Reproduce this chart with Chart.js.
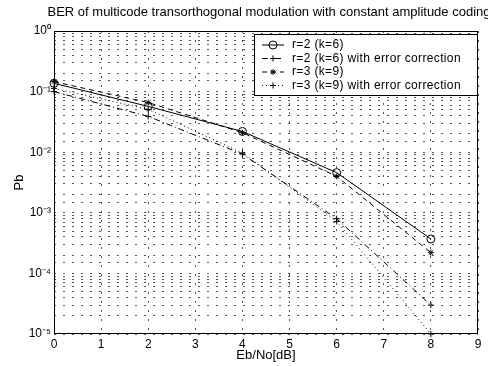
<!DOCTYPE html>
<html>
<head>
<meta charset="utf-8">
<script src="https://cdn.jsdelivr.net/npm/chart.js@4.4.1/dist/chart.umd.min.js"></script>
<style>
html,body{margin:0;padding:0;background:#fff}
#wrap{width:488px;height:366px}
</style>
</head>
<body>
<div id="wrap"><canvas id="ber"></canvas></div>
<script>
// data
const ebno = [0, 2, 4, 6, 8];
const r2k6 = [0.137, 0.057, 0.022, 0.0046, 0.00037];
const r2k6ec = [0.100, 0.039, 0.0093, 0.00080, 0.00003];
const r3k9 = [0.146, 0.066, 0.021, 0.0040, 0.00022];
const r3k9ec = [0.113, 0.051, 0.0097, 0.00072, 0.00001];

const seriesNames = [
    "r=2 (k=6)",
    "r=2 (k=6) with error correction",
    "r=3 (k=9)",
    "r=3 (k=9) with error correction"
];

const titleText = "BER of multicode transorthogonal modulation with constant amplitude coding";
const xTitle = "Eb/No[dB]";
const yTitle = "Pb";

const FONT = "'Liberation Sans', Arial, sans-serif";

const sup = {"0":"⁰","1":"¹","2":"²","3":"³","4":"⁴","5":"⁵","6":"⁶","7":"⁷","8":"⁸","9":"⁹","-":"⁻"};
function powLabel(v){
    const e = Math.log10(v);
    if (Math.abs(e - Math.round(e)) > 1e-6) return "";
    return "10" + String(Math.round(e)).split("").map(c => sup[c]).join("");
}

function pts(ys){
    return ebno.map((x, i) => ({x: x, y: ys[i]}));
}

function drawMarker(ctx, style, r, x, y){
    ctx.beginPath();
    if (style === "circle") {
        ctx.arc(x, y, r, 0, Math.PI * 2);
    } else if (style === "cross") {
        ctx.moveTo(x - r, y); ctx.lineTo(x + r, y);
        ctx.moveTo(x, y - r); ctx.lineTo(x, y + r);
    } else if (style === "star") {
        ctx.moveTo(x - r, y); ctx.lineTo(x + r, y);
        ctx.moveTo(x, y - r); ctx.lineTo(x, y + r);
        const d = r * 0.7;
        ctx.moveTo(x - d, y - d); ctx.lineTo(x + d, y + d);
        ctx.moveTo(x - d, y + d); ctx.lineTo(x + d, y - d);
    }
    ctx.stroke();
}

const extras = {
    id: "extras",
    afterDraw(chart){
        const ctx = chart.ctx;
        const a = chart.chartArea;
        ctx.save();

        // frame
        ctx.strokeStyle = "#000";
        ctx.lineWidth = 1;
        ctx.setLineDash([]);
        ctx.strokeRect(a.left + 0.5, a.top + 0.5, a.right - a.left - 1, a.bottom - a.top - 1);

        // titles
        ctx.fillStyle = "#000";
        ctx.textAlign = "center";
        ctx.textBaseline = "middle";
        ctx.font = "13px " + FONT;
        ctx.fillText(titleText, (a.left + a.right) / 2 + 3, 12);
        ctx.fillText(xTitle, (a.left + a.right) / 2, 355);
        ctx.save();
        ctx.translate(19, (a.top + a.bottom) / 2);
        ctx.rotate(-Math.PI / 2);
        ctx.fillText(yTitle, 0, 0);
        ctx.restore();

        // legend
        const lx = a.right - 224, ly = a.top + 3, lw = 224, lh = 62;
        ctx.fillStyle = "#fff";
        ctx.fillRect(lx, ly, lw, lh);
        ctx.strokeRect(lx + 0.5, ly + 0.5, lw - 1, lh - 1);
        ctx.font = "12px " + FONT;
        ctx.textAlign = "left";
        chart.data.datasets.forEach((ds, i) => {
            const y = ly + 11 + i * 13.5;
            ctx.strokeStyle = "#000";
            ctx.lineWidth = 1;
            ctx.setLineDash(ds.borderDash || []);
            ctx.beginPath();
            ctx.moveTo(lx + 8, y);
            ctx.lineTo(lx + 30, y);
            ctx.stroke();
            ctx.setLineDash([]);
            drawMarker(ctx, ds.pointStyle, ds.pointRadius, lx + 19, y);
            ctx.fillStyle = "#000";
            ctx.letterSpacing = "0.35px";
            ctx.fillText(ds.label, lx + 38, y);
            ctx.letterSpacing = "0px";
        });
        ctx.restore();
    }
};

const markerPlugin = {
    id: "markers",
    afterDatasetsDraw(chart){
        const ctx = chart.ctx;
        ctx.save();
        ctx.strokeStyle = "#000";
        ctx.lineWidth = 1;
        ctx.setLineDash([]);
        chart.data.datasets.forEach((ds, i) => {
            chart.getDatasetMeta(i).data.forEach(p => {
                drawMarker(ctx, ds.pointStyle, ds.pointRadius, p.x, p.y);
            });
        });
        ctx.restore();
    }
};

function line(label, ys, dash, marker, r){
    return {
        label: label,
        data: pts(ys),
        borderColor: "#000",
        borderWidth: 1,
        borderDash: dash,
        pointStyle: marker,
        pointRadius: r,
        pointBorderWidth: 0,
        pointBackgroundColor: "transparent",
        pointBorderColor: "transparent",
        tension: 0,
        fill: false
    };
}

new Chart(document.getElementById("ber"), {
    type: "line",
    data: {
        datasets: [
            line(seriesNames[0], r2k6, [], "circle", 4),
            line(seriesNames[1], r2k6ec, [6, 3, 1, 3], "cross", 3),
            line(seriesNames[2], r3k9, [5, 4], "star", 3),
            line(seriesNames[3], r3k9ec, [1, 3], "cross", 3)
        ]
    },
    options: {
        responsive: true,
        maintainAspectRatio: false,
        animation: false,
        layout: {padding: {top: 31, right: 10, left: 0, bottom: 0}},
        plugins: {
            legend: {display: false},
            title: {display: false},
            tooltip: {enabled: false}
        },
        scales: {
            x: {
                type: "linear",
                min: 0,
                max: 9,
                afterFit(s){ s.height = 32; },
                ticks: {
                    stepSize: 1,
                    padding: 3,
                    color: "#000",
                    font: {family: FONT, size: 12}
                },
                grid: {color: "#555", drawTicks: false, lineWidth: 1},
                border: {display: false, dash: [2, 7]}
            },
            y: {
                type: "logarithmic",
                min: 1e-5,
                max: 1,
                afterFit(s){ s.width = 54; },
                ticks: {
                    autoSkip: false,
                    padding: 3,
                    color: "#000",
                    font: {family: FONT, size: 12},
                    callback: v => powLabel(v)
                },
                grid: {color: "#555", drawTicks: false, lineWidth: 1},
                border: {display: false, dash: [2, 7]}
            }
        }
    },
    plugins: [markerPlugin, extras]
});
</script>
</body>
</html>
